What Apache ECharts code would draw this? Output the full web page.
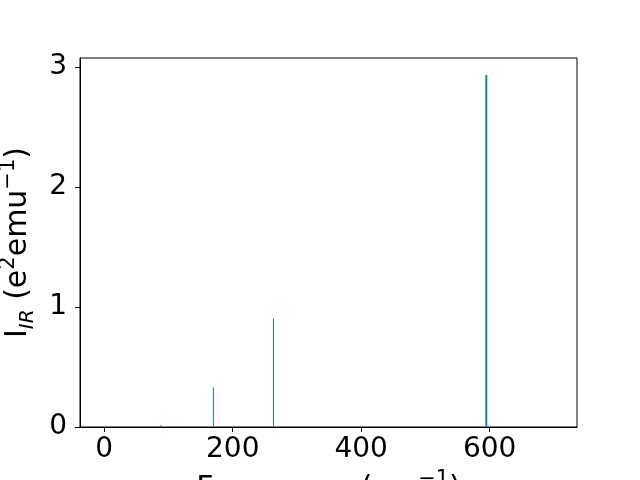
<!DOCTYPE html>
<html>
<head>
<meta charset="utf-8">
<script src="https://cdn.jsdelivr.net/npm/echarts@6/dist/echarts.min.js"></script>
<style>html,body{margin:0;padding:0;background:#fff}#c{width:640px;height:480px}</style>
</head>
<body>
<div id="c"></div>
<script>
const frequencies = [87.9, 169.9, 263.4, 594.8];
const intensities = [0.015, 0.33, 0.906, 2.933];
const xTicks = [0, 200, 400, 600];
const yTicks = [0, 1, 2, 3];

const chart = echarts.init(document.getElementById('c'), null, {renderer: 'canvas'});
const font = 'DejaVu Sans';
const peaks = frequencies.map((f, i) => [f, intensities[i]]);

const rich = {
  n: {fontSize: 30, fontFamily: font, color: '#000', lineHeight: 40, verticalAlign: 'middle'},
  s: {fontSize: 20, fontFamily: font, fontStyle: 'italic', color: '#000', lineHeight: 20, verticalAlign: 'bottom'},
  p: {fontSize: 21, fontFamily: font, color: '#000', lineHeight: 20, verticalAlign: 'top'}
};

chart.setOption({
  animation: false,
  grid: {left: 80, right: 63, top: 58, bottom: 53, show: true, borderColor: '#000', borderWidth: 1, backgroundColor: 'transparent', containLabel: false, outerBoundsMode: 'none'},
  xAxis: {
    type: 'value', min: -37.8, max: 736,
    name: '{n|Frequency (cm}{p|−1}{n|)}', nameLocation: 'middle', nameGap: 39,
    nameTextStyle: {rich: rich},
    axisLine: {show: true, onZero: false, lineStyle: {color: '#000', width: 1}},
    axisTick: {show: true, inside: false, length: 5, lineStyle: {color: '#000'}, customValues: xTicks},
    axisLabel: {fontSize: 28, fontFamily: font, color: '#000', margin: 9, customValues: xTicks},
    splitLine: {show: false}
  },
  yAxis: {
    type: 'value', min: 0, max: 3.075,
    name: '{n|I}{s|IR}{n| (e}{p|2}{n|emu}{p|−1}{n|)}', nameLocation: 'middle', nameRotate: 90, nameGap: 34,
    nameTextStyle: {rich: rich},
    axisLine: {show: true, onZero: false, lineStyle: {color: '#000', width: 1}},
    axisTick: {show: true, inside: false, length: 5, lineStyle: {color: '#000'}, customValues: yTicks},
    axisLabel: {fontSize: 28, fontFamily: font, color: '#000', margin: 13, customValues: yTicks},
    splitLine: {show: false}
  },
  series: [{
    type: 'custom',
    data: peaks,
    renderItem: function (params, api) {
      const x = api.value(0), h = api.value(1);
      const p0 = api.coord([x, 0]);
      const p1 = api.coord([x, h]);
      return {
        type: 'line',
        shape: {x1: p0[0], y1: p0[1], x2: p1[0], y2: p1[1]},
        style: {stroke: '#1f77b4', lineWidth: h > 2 ? 2 : 1}
      };
    }
  }]
});
</script>
</body>
</html>
